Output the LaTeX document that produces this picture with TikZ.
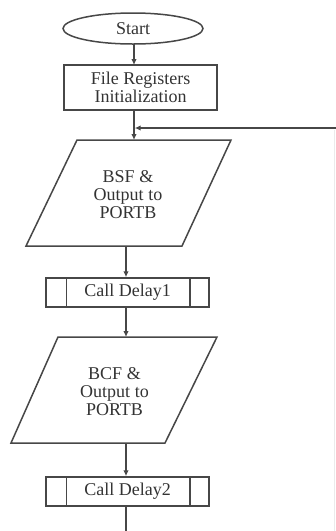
\documentclass[tikz,border=0pt]{standalone}
\usepackage{fontspec}
\setmainfont{Liberation Serif}
\usetikzlibrary{arrows.meta,shapes.geometric}
\begin{document}
\begin{tikzpicture}[x=1pt,y=-1pt,
  line width=1.5pt, color=black!72,
  arr/.style={-{Latex[length=6pt,width=5.5pt]}},
  lbl/.style={font=\fontsize{18}{18}\selectfont, text=black!80, align=center, inner sep=0pt},
  boxnode/.style={lbl, draw=black!72, line width=1.5pt, rectangle},
  ovalnode/.style={lbl, draw=black!72, line width=1.5pt, ellipse, minimum width=140pt, minimum height=31pt},
  delaybox/.style={boxnode, minimum width=163pt, minimum height=29pt}]
\useasboundingbox (0,0) rectangle (336,531);
% nodes
\node[ovalnode] (st) at (133,28.5) {Start};
\node[boxnode, minimum width=153pt, minimum height=45pt] (fr) at (140.5,87.5) {File Registers\\Initialization};
% parallelogram 1
\coordinate (p1tl) at (77,140); \coordinate (p1tr) at (231,140);
\coordinate (p1br) at (182,246); \coordinate (p1bl) at (26,246);
\draw (p1tl) -- (p1tr) -- (p1br) -- (p1bl) -- cycle;
\node[lbl] (p1) at (128,195) {BSF \&\\Output to\\PORTB};
\coordinate (p1top) at (134,140);
\coordinate (p1bot) at (126,246);
% delay 1
\node[delaybox] (d1) at (127.5,292.5) {Call Delay1};
\draw ([xshift=21pt]d1.north west) -- ([xshift=21pt]d1.south west);
\draw ([xshift=-20pt]d1.north east) -- ([xshift=-20pt]d1.south east);
% parallelogram 2
\coordinate (p2tl) at (58,337); \coordinate (p2tr) at (217,337);
\coordinate (p2br) at (165,443); \coordinate (p2bl) at (11,443);
\draw (p2tl) -- (p2tr) -- (p2br) -- (p2bl) -- cycle;
\node[lbl] (p2) at (114.5,392) {BCF \&\\Output to\\PORTB};
\coordinate (p2top) at (126,337);
\coordinate (p2bot) at (126,443);
% delay 2
\node[delaybox] (d2) at (127.5,491.5) {Call Delay2};
\draw ([xshift=21pt]d2.north west) -- ([xshift=21pt]d2.south west);
\draw ([xshift=-20pt]d2.north east) -- ([xshift=-20pt]d2.south east);
% connectors
\coordinate (stb) at (134,44);
\coordinate (frt) at (134,65);
\coordinate (frb) at (134,110);
\draw[arr] (stb) -- (frt);
\draw[arr] (frb) -- (p1top);
\coordinate (loopR) at (336,128);
\coordinate (join) at (134.7,128);
\draw[arr] (loopR) -- (join);
\draw[arr] (p1bot) -- (p1bot |- d1.north);
\draw[arr] (d1.south -| p2top) -- (p2top);
\draw[arr] (p2bot) -- (p2bot |- d2.north);
\coordinate (endb) at (126,531);
\draw (d2.south -| endb) -- (endb);
% faint return line at right edge
\coordinate (rtop) at (334.5,130);
\coordinate (rbot) at (334.5,531);
\draw[color=black!8, line width=1pt] (rtop) -- (rbot);
\end{tikzpicture}
\end{document}
